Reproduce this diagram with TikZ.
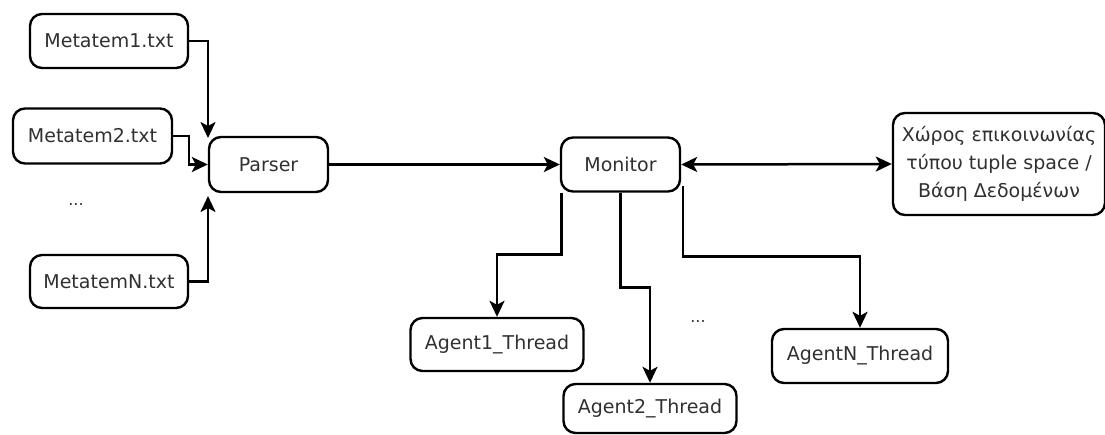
\documentclass[tikz,border=0pt]{standalone}
\usepackage{fontspec}
\setmainfont{DejaVu Sans}
\usetikzlibrary{arrows.meta}
\definecolor{txt}{HTML}{303030}
\begin{document}
\begin{tikzpicture}[x=1pt,y=-1pt,
  box/.style={draw=black, line width=2.4pt, rounded corners=12pt, inner sep=0pt,
    text=txt, font=\fontsize{19}{28}\selectfont, align=center},
  arr/.style={draw=black, line width=2.5pt, -{Stealth[length=16pt,width=15pt,inset=4pt]}},
  arrb/.style={draw=black, line width=2.5pt, {Stealth[length=16pt,width=15pt,inset=4pt]}-{Stealth[length=16pt,width=15pt,inset=4pt]}},
  dots/.style={text=txt, font=\fontsize{16}{16}\selectfont}]
\useasboundingbox (0,0) rectangle (1105,434);
\node[box, minimum width=158pt, minimum height=54pt] (m1) at (109,41) {Metatem1.txt};
\node[box, minimum width=159pt, minimum height=55pt] (m2) at (92.5,136) {Metatem2.txt};
\node[dots] (d1) at (76,205) {...};
\node[box, minimum width=158pt, minimum height=53pt] (mN) at (109,281.5) {MetatemN.txt};
\node[box, minimum width=119pt, minimum height=55pt] (parser) at (268.5,164.5) {Parser};
\node[box, minimum width=119pt, minimum height=54pt] (monitor) at (620.5,164.5) {Monitor};
\node[box, minimum width=212pt, minimum height=102pt] (tuple) at (999,164) {Χώρος επικοινωνίας\\τύπου tuple space /\\Βάση Δεδομένων};
\node[box, minimum width=173pt, minimum height=53pt] (a1) at (497,344.5) {Agent1\_Thread};
\node[box, minimum width=173pt, minimum height=49pt] (a2) at (650,408.5) {Agent2\_Thread};
\node[box, minimum width=176pt, minimum height=54pt] (aN) at (860,356) {AgentN\_Thread};
\node[dots] (d2) at (698,322) {...};
\coordinate (p1) at (208,138);
\coordinate (pN) at (208,196);
\draw[arr] (m1.east) -| (p1);
\draw[arr] (m2.east) -- ++(16,0) |- (parser.west);
\draw[arr] (mN.east) -| (pN);
\draw[arr] (parser.east) -- (monitor.west);
\draw[arrb] (monitor.east) -- (tuple.west);
\draw[arr] ([xshift=1.5pt]monitor.south west) -- ++(0,62) -| (a1.north);
\draw[arr] (monitor.south) -- ++(0,95) -| (a2.north);
\draw[arr] ([xshift=2pt,yshift=7pt]monitor.south east) -- ++(0,71) -| (aN.north);
\end{tikzpicture}
\end{document}
